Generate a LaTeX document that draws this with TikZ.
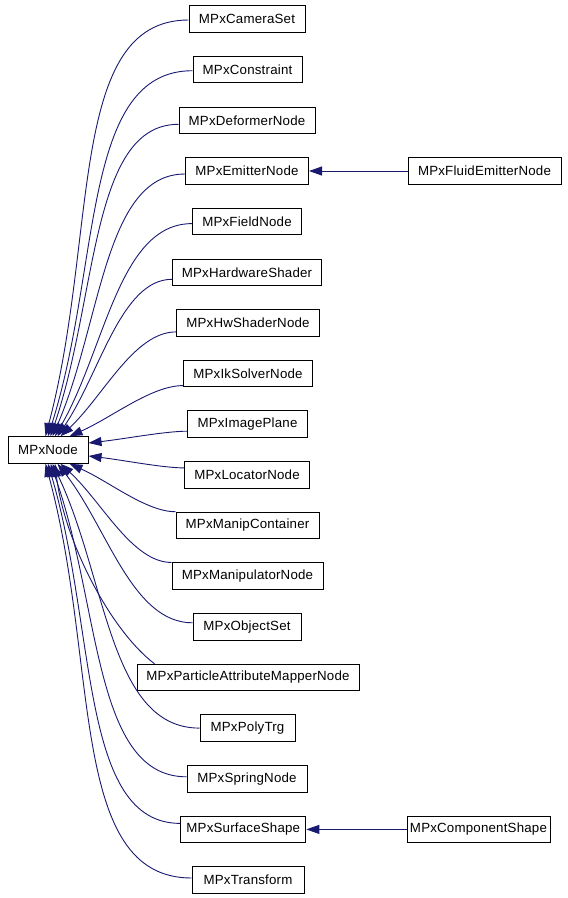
\documentclass[tikz,border=0pt]{standalone}
\usepackage{fontspec}
\setmainfont{Liberation Sans}[LetterSpace=1.5]
\usetikzlibrary{arrows.meta,calc}
\definecolor{edgeblue}{HTML}{191970}
\tikzset{
  cls/.style={draw=black, line width=1pt, fill=white, minimum height=26.5pt, inner sep=0pt,
    font=\fontsize{13.3}{16}\selectfont},
  edge/.style={draw=edgeblue, line width=0.9pt, -{Triangle[length=13pt,width=9pt]}, edgeblue}
}
\newcommand\inhedge[2]{%
  \draw[edge] let \p1=(#1), \p2=(#2), \n1={abs((\y2)-(\y1))} in
    (\p1) .. controls ({(\x1)-(0.2+\n1/640)*((\x1)-(\x2))},{\y1})
    and ({(\x2)+0.37*((\x1)-(\x2))},{(\y2)+(0.35+\n1/3200)*((\y1)-(\y2))}) .. (\p2);}
\begin{document}
\begin{tikzpicture}[x=1pt,y=-1pt]
\useasboundingbox (0,0) rectangle (568,898);
\node[cls, minimum width=80pt] (m) at (48,450) {MPxNode};
\node[cls, minimum width=116pt] (n1) at (247,19) {MPxCameraSet};
\node[cls, minimum width=109pt] (n2) at (247.5,69.7) {MPxConstraint};
\node[cls, minimum width=136pt] (n3) at (247,120.3) {MPxDeformerNode};
\node[cls, minimum width=123pt] (n4) at (247,171) {MPxEmitterNode};
\node[cls, minimum width=109pt] (n5) at (247,221.6) {MPxFieldNode};
\node[cls, minimum width=149pt] (n6) at (247,272.3) {MPxHardwareShader};
\node[cls, minimum width=143pt] (n7) at (248,322.9) {MPxHwShaderNode};
\node[cls, minimum width=129pt] (n8) at (248,373.6) {MPxIkSolverNode};
\node[cls, minimum width=120pt] (n9) at (247.5,424.2) {MPxImagePlane};
\node[cls, minimum width=125pt] (n10) at (247,474.9) {MPxLocatorNode};
\node[cls, minimum width=143pt] (n11) at (247.5,525.5) {MPxManipContainer};
\node[cls, minimum width=151pt] (n12) at (247.5,576.2) {MPxManipulatorNode};
\node[cls, minimum width=108pt] (n13) at (247,626.8) {MPxObjectSet};
\node[cls, minimum width=222pt] (n14) at (248,677.5) {MPxParticleAttributeMapperNode};
\node[cls, minimum width=95pt] (n15) at (247.5,728.1) {MPxPolyTrg};
\node[cls, minimum width=120pt] (n16) at (247,778.8) {MPxSpringNode};
\node[cls, minimum width=125pt] (n17) at (243.3,829.4) {MPxSurfaceShape};
\node[cls, minimum width=112pt] (n18) at (248,880) {MPxTransform};
\node[cls, minimum width=153pt] (f1) at (484.5,171) {MPxFluidEmitterNode};
\node[cls, minimum width=143pt] (c1) at (478.5,829.4) {MPxComponentShape};
% start points
\coordinate (s1) at ([yshift=-1pt]n1.west);
\coordinate (s2) at ([yshift=-1pt]n2.west);
\coordinate (s3) at ([yshift=-4pt]n3.west);
\coordinate (s4) at ([yshift=-3pt]n4.west);
\coordinate (s5) at ([yshift=-2pt]n5.west);
\coordinate (s6) at ([yshift=-7pt]n6.west);
\coordinate (s7) at ([yshift=-9pt]n7.west);
\coordinate (s8) at ([yshift=-12pt]n8.west);
\coordinate (s9) at ([yshift=-7pt]n9.west);
\coordinate (s10) at ([yshift=7pt]n10.west);
\coordinate (s11) at (n11.north west);
\coordinate (s12) at (n12.north west);
\coordinate (s13) at ([yshift=4pt]n13.west);
\coordinate (s14) at ([xshift=18pt]n14.north west);
\coordinate (s15) at (n15.west);
\coordinate (s16) at ([yshift=2pt]n16.west);
\coordinate (s17) at ([yshift=6pt]n17.west);
\coordinate (s18) at ([yshift=2pt]n18.west);
% arrow tips on MPxNode
\coordinate (e1) at ([xshift=38pt]m.north west);
\coordinate (e2) at ([xshift=40.5pt]m.north west);
\coordinate (e3) at ([xshift=43pt]m.north west);
\coordinate (e4) at ([xshift=45pt]m.north west);
\coordinate (e5) at ([xshift=47.5pt]m.north west);
\coordinate (e6) at ([xshift=50pt]m.north west);
\coordinate (e7) at ([xshift=53pt]m.north west);
\coordinate (e8) at ([xshift=62pt]m.north west);
\coordinate (e9) at ([yshift=7pt]m.east);
\coordinate (e10) at ([yshift=-6pt]m.east);
\coordinate (e11) at ([xshift=62pt]m.south west);
\coordinate (e12) at ([xshift=53pt]m.south west);
\coordinate (e13) at ([xshift=50pt]m.south west);
\coordinate (e14) at ([xshift=47.5pt]m.south west);
\coordinate (e15) at ([xshift=45pt]m.south west);
\coordinate (e16) at ([xshift=43pt]m.south west);
\coordinate (e17) at ([xshift=40.5pt]m.south west);
\coordinate (e18) at ([xshift=38pt]m.south west);
\foreach \i in {1,...,13,15,16,17,18} {\inhedge{s\i}{e\i}}
\draw[edge] (s14) .. controls (110,630) and (64,540) .. (e14);
\draw[edge] (f1.west) -- (n4.east);
\draw[edge] (c1.west) -- (n17.east);
\end{tikzpicture}
\end{document}
